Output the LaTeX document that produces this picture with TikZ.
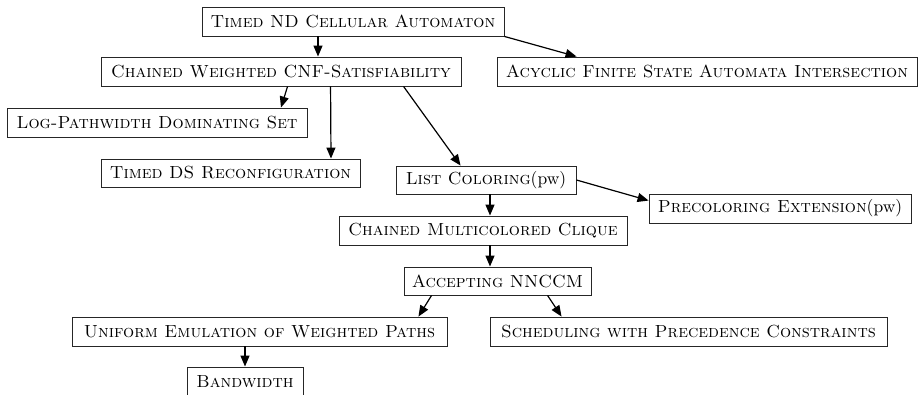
\documentclass[tikz,border=0pt]{standalone}
\usepackage{fontspec}
\setmainfont{lmroman10-regular.otf}[SmallCapsFont=lmromancaps10-regular.otf]
\usetikzlibrary{arrows.meta}
\begin{document}
\begin{tikzpicture}[x=1pt,y=-1pt,
  box/.style={draw=black!85,line width=0.9pt,rectangle,inner sep=0pt,minimum height=29pt,
    font=\fontsize{17.5}{20}\selectfont\scshape,anchor=center},
  edge/.style={line width=1.2pt,-{Triangle[length=11pt,width=9pt]}}]
\useasboundingbox (0,0) rectangle (922,395);
\node[box,minimum width=302pt] (tnd) at (353,21.5) {Timed ND Cellular Automaton};
\node[box,minimum width=360pt] (cw) at (281,71.5) {Chained Weighted CNF-Satisfiability};
\node[box,minimum width=420pt] (afsa) at (707,71.5) {Acyclic Finite State Automata Intersection};
\node[box,minimum width=300pt] (lpds) at (157,122.5) {Log-Pathwidth Dominating Set};
\node[box,minimum width=259pt,minimum height=28pt] (tds) at (230.5,173) {Timed DS Reconfiguration};
\node[box,minimum width=180pt,minimum height=28pt] (lc) at (486,180) {List Coloring\textnormal{(pw)}};
\node[box,minimum width=262pt] (pe) at (780,208.5) {Precoloring Extension\textnormal{(pw)}};
\node[box,minimum width=288pt] (cmc) at (483,230.5) {Chained Multicolored Clique};
\node[box,minimum width=187pt,minimum height=28pt] (acc) at (497.5,281) {Accepting NNCCM};
\node[box,minimum width=375pt] (uew) at (259.5,331.5) {Uniform Emulation of Weighted Paths};
\node[box,minimum width=397pt] (sch) at (688.5,331.5) {Scheduling with Precedence Constraints};
\node[box,minimum width=116pt] (bw) at (245,381.5) {Bandwidth};

\draw[edge] ([xshift=-35pt]tnd.south) -- ([xshift=37pt]cw.north);
\draw[edge] (tnd.south east) -- ([xshift=80pt]afsa.north west);
\draw[edge] ([xshift=187pt]cw.south west) -- ([xshift=124pt]lpds.north);
\draw[edge] ([xshift=230pt]cw.south west) -- ([xshift=100.5pt]tds.north);
\draw[edge] ([xshift=303pt]cw.south west) -- ([xshift=65pt]lc.north west);
\draw[edge] (lc.east) -- ([yshift=-7pt]pe.north west);
\draw[edge] ([xshift=4pt]lc.south) -- ([xshift=7pt]cmc.north);
\draw[edge] ([xshift=7pt]cmc.south) -- ([xshift=-7.5pt]acc.north);
\draw[edge] ([xshift=28pt]acc.south west) -- ([xshift=-29pt]uew.north east);
\draw[edge] ([xshift=144pt]acc.south west) -- ([xshift=72pt]sch.north west);
\draw[edge] ([xshift=-14.5pt]uew.south) -- (bw.north);
\end{tikzpicture}
\end{document}
